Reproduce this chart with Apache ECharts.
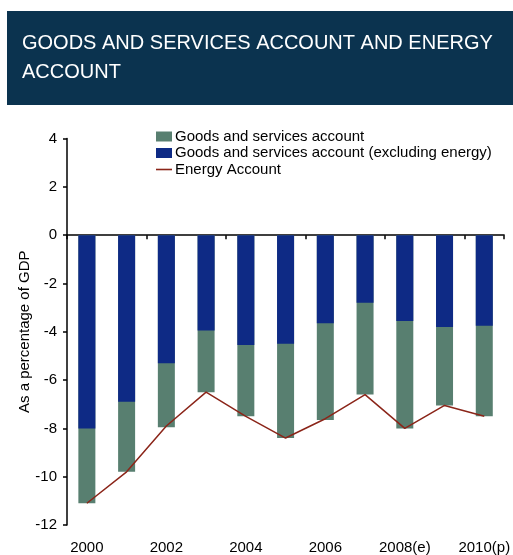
<!DOCTYPE html>
<html>
<head>
<meta charset="utf-8">
<script src="https://cdn.jsdelivr.net/npm/echarts@6/dist/echarts.min.js"></script>
<style>
  html, body { margin: 0; padding: 0; background: #ffffff; }
  #chart { width: 513px; height: 555px; }
</style>
</head>
<body>
<div id="chart"></div>
<script>
// Years on the category axis (every other one is labelled)
const years = ['2000', '2001', '2002', '2003', '2004', '2005', '2006', '2007', '2008(e)', '2009(p)', '2010(p)'];
// Goods and services account, % of GDP
const goodsServices = [-11.1, -9.8, -7.95, -6.5, -7.5, -8.4, -7.65, -6.6, -8.0, -7.05, -7.5];
// Goods and services account excluding energy, % of GDP
const goodsServicesExEnergy = [-8.0, -6.9, -5.3, -3.95, -4.55, -4.5, -3.65, -2.8, -3.55, -3.8, -3.75];
// Energy account, % of GDP
const energyAccount = [-11.1, -9.8, -7.9, -6.5, -7.5, -8.4, -7.6, -6.6, -8.0, -7.05, -7.5];
// Value axis ticks
const yMin = -12, yMax = 4, yStep = 2;

const FONT = 'Liberation Sans, Arial, sans-serif';
const chart = echarts.init(document.getElementById('chart'), null, { renderer: 'canvas' });

chart.setOption({
  animation: false,
  backgroundColor: '#ffffff',
  graphic: [
    {
      type: 'rect',
      left: 7, top: 11,
      shape: { width: 506, height: 94 },
      style: { fill: '#0b334f' },
      silent: true
    },
    {
      type: 'text',
      left: 22, top: 28.5,
      style: {
        text: 'GOODS AND SERVICES ACCOUNT AND ENERGY\nACCOUNT',
        fill: '#ffffff',
        font: '20px ' + FONT,
        lineHeight: 29
      },
      silent: true
    }
  ],
  legend: {
    orient: 'vertical',
    left: 151, top: 124,
    itemWidth: 16, itemHeight: 10,
    itemGap: 1.5,
    symbolKeepAspect: true,
    textStyle: { fontFamily: FONT, fontSize: 15, lineHeight: 15, color: '#000000', padding: [0, 0, 0, -2] },
    data: [
      { name: 'Goods and services account', icon: 'rect' },
      { name: 'Goods and services account (excluding energy)', icon: 'rect' },
      { name: 'Energy Account', icon: 'path://M0,0 L16,0 L16,1.6 L0,1.6 Z' }
    ]
  },
  grid: { left: 67, right: 6, top: 138.5, bottom: 28.3, containLabel: false },
  xAxis: [
    {
      type: 'category',
      data: years,
      position: 'bottom',
      boundaryGap: true,
      axisLine: { onZero: true, lineStyle: { color: '#000000', width: 1.5 } },
      axisTick: { show: true, length: 4, inside: false, lineStyle: { color: '#000000', width: 1.5 } },
      axisLabel: { show: false },
      splitLine: { show: false }
    },
    {
      type: 'category',
      data: years,
      position: 'bottom',
      boundaryGap: true,
      axisLine: { show: false, onZero: false },
      axisTick: { show: false },
      axisLabel: { show: true, interval: 1, margin: 15, fontFamily: FONT, fontSize: 15, color: '#000000' },
      splitLine: { show: false }
    }
  ],
  yAxis: {
    type: 'value',
    min: yMin, max: yMax, interval: yStep,
    name: 'As a percentage of GDP',
    nameLocation: 'middle',
    nameGap: 35,
    nameMoveOverlap: false,
    nameRotate: 90,
    nameTextStyle: { fontFamily: FONT, fontSize: 15, color: '#000000' },
    axisLine: { show: true, lineStyle: { color: '#000000', width: 1.5 } },
    axisTick: { show: true, length: 4, lineStyle: { color: '#000000', width: 1.5 } },
    axisLabel: { margin: 10, fontFamily: FONT, fontSize: 15, color: '#000000' },
    splitLine: { show: false }
  },
  series: [
    {
      name: 'Goods and services account',
      type: 'bar',
      xAxisIndex: 0,
      data: goodsServices,
      barWidth: 17,
      barGap: '-100%',
      itemStyle: { color: '#587f70' }
    },
    {
      name: 'Goods and services account (excluding energy)',
      type: 'bar',
      xAxisIndex: 0,
      data: goodsServicesExEnergy,
      barWidth: 17,
      barGap: '-100%',
      itemStyle: { color: '#0e2a85' }
    },
    {
      name: 'Energy Account',
      type: 'line',
      xAxisIndex: 0,
      data: energyAccount,
      symbol: 'none',
      lineStyle: { color: '#8b2519', width: 1.5 },
      itemStyle: { color: '#8b2519' },
      z: 5
    }
  ]
});
</script>
</body>
</html>
